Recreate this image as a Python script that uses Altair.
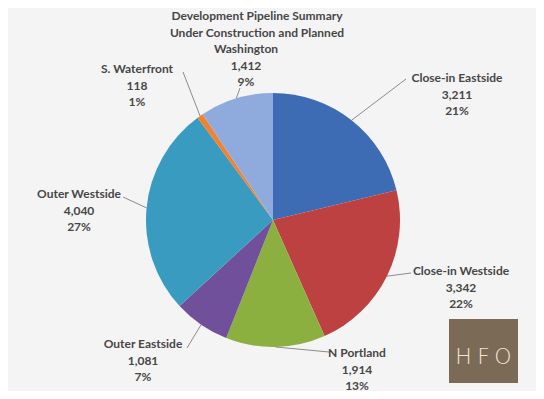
import math
import altair as alt
import pandas as pd

# ---------------- data ----------------
categories = ["Close-in Eastside", "Close-in Westside", "N Portland", "Outer Eastside",
              "Outer Westside", "S. Waterfront", "Washington"]
units = [3211, 3342, 1914, 1081, 4040, 118, 1412]
colors = ["#3E6CB4", "#BD4140", "#8CB040", "#70509A", "#3A9BC0", "#F3822F", "#8FAADD"]
title_lines = ["Development Pipeline Summary", "Under Construction and Planned"]
logo_letters = ["H", "F", "O"]

# ---------------- layout (plot px) ----------------
W, H = 528, 383
CX, CY, R = 265, 212, 127
# label text anchors: centre x, first-line baseline y
label_x = [449, 453, 349, 135, 71, 129, 238]
label_y = [74, 267, 349, 340, 190, 65, 45]
# leader line end points near the labels
leader_x2 = [398, 403, 321, 179, 115, 175, 232]
leader_y2 = [71, 265, 344, 340, 189, 64, 80]
title_x, title_y = 249, 12
line_h = 16.5
logo_box = (441, 510, 311, 375)
logo_x = [455.5, 475.5, 495]
logo_y = 349

total = sum(units)
cum = 0
rows = []
for i, (c, u) in enumerate(zip(categories, units)):
    mid = (cum + u / 2) / total * 2 * math.pi
    cum += u
    pct = round(u / total * 100)
    rows.append({
        "category": c, "units": u, "order": i,
        "label": f"{c}\n{u:,}\n{pct}%",
        "lx": label_x[i], "ly": label_y[i],
        "sx": CX + R * math.sin(mid), "sy": CY - R * math.cos(mid),
        "ex": leader_x2[i], "ey": leader_y2[i],
    })
df = pd.DataFrame(rows)

xs = alt.Scale(domain=[0, W], range=[0, W])
ys = alt.Scale(domain=[0, H], range=[0, H])

pie = alt.Chart(df).mark_arc(outerRadius=R).encode(
    theta=alt.Theta("units:Q", stack=True),
    color=alt.Color("category:N", scale=alt.Scale(domain=categories, range=colors), legend=None),
    order=alt.Order("order:Q"),
    x=alt.value(CX), y=alt.value(CY),
)

leaders = alt.Chart(df).mark_rule(color="#8C8C8C", strokeWidth=1).encode(
    x=alt.X("sx:Q", scale=xs, axis=None), y=alt.Y("sy:Q", scale=ys, axis=None),
    x2="ex:Q", y2="ey:Q",
)

labels = alt.Chart(df).mark_text(
    font="Lato", fontWeight="bold", fontSize=12, color="#474747",
    align="center", baseline="alphabetic", lineBreak="\n", lineHeight=line_h,
).encode(
    x=alt.X("lx:Q", scale=xs, axis=None), y=alt.Y("ly:Q", scale=ys, axis=None),
    text="label:N",
)

tdf = pd.DataFrame({"t": ["\n".join(title_lines)], "x": [title_x], "y": [title_y]})
title = alt.Chart(tdf).mark_text(
    font="Lato", fontWeight="bold", fontSize=12, color="#474747",
    align="center", baseline="alphabetic", lineBreak="\n", lineHeight=line_h,
).encode(x=alt.X("x:Q", scale=xs, axis=None), y=alt.Y("y:Q", scale=ys, axis=None), text="t:N")

logo_rect = alt.Chart(pd.DataFrame({"a": [0]})).mark_rect(color="#7B6A55").encode(
    x=alt.value(logo_box[0]), x2=alt.value(logo_box[1]),
    y=alt.value(logo_box[2]), y2=alt.value(logo_box[3]),
)
ldf = pd.DataFrame({"t": logo_letters, "x": logo_x, "y": [logo_y] * 3})
logo_text = alt.Chart(ldf).mark_text(
    font="DejaVu Sans", fontWeight=300, fontSize=22, color="#EFE6D6",
    align="center", baseline="middle",
).encode(x=alt.X("x:Q", scale=xs, axis=None), y=alt.Y("y:Q", scale=ys, axis=None), text="t:N")

chart = alt.layer(pie, leaders, labels, title, logo_rect, logo_text).properties(
    width=W, height=H, padding=0, autosize=alt.AutoSizeParams(type="none"),
    background="#F4F4F4",
).configure_view(stroke=None)

chart.save("out.html", embed_options={"renderer": "svg", "actions": False})
